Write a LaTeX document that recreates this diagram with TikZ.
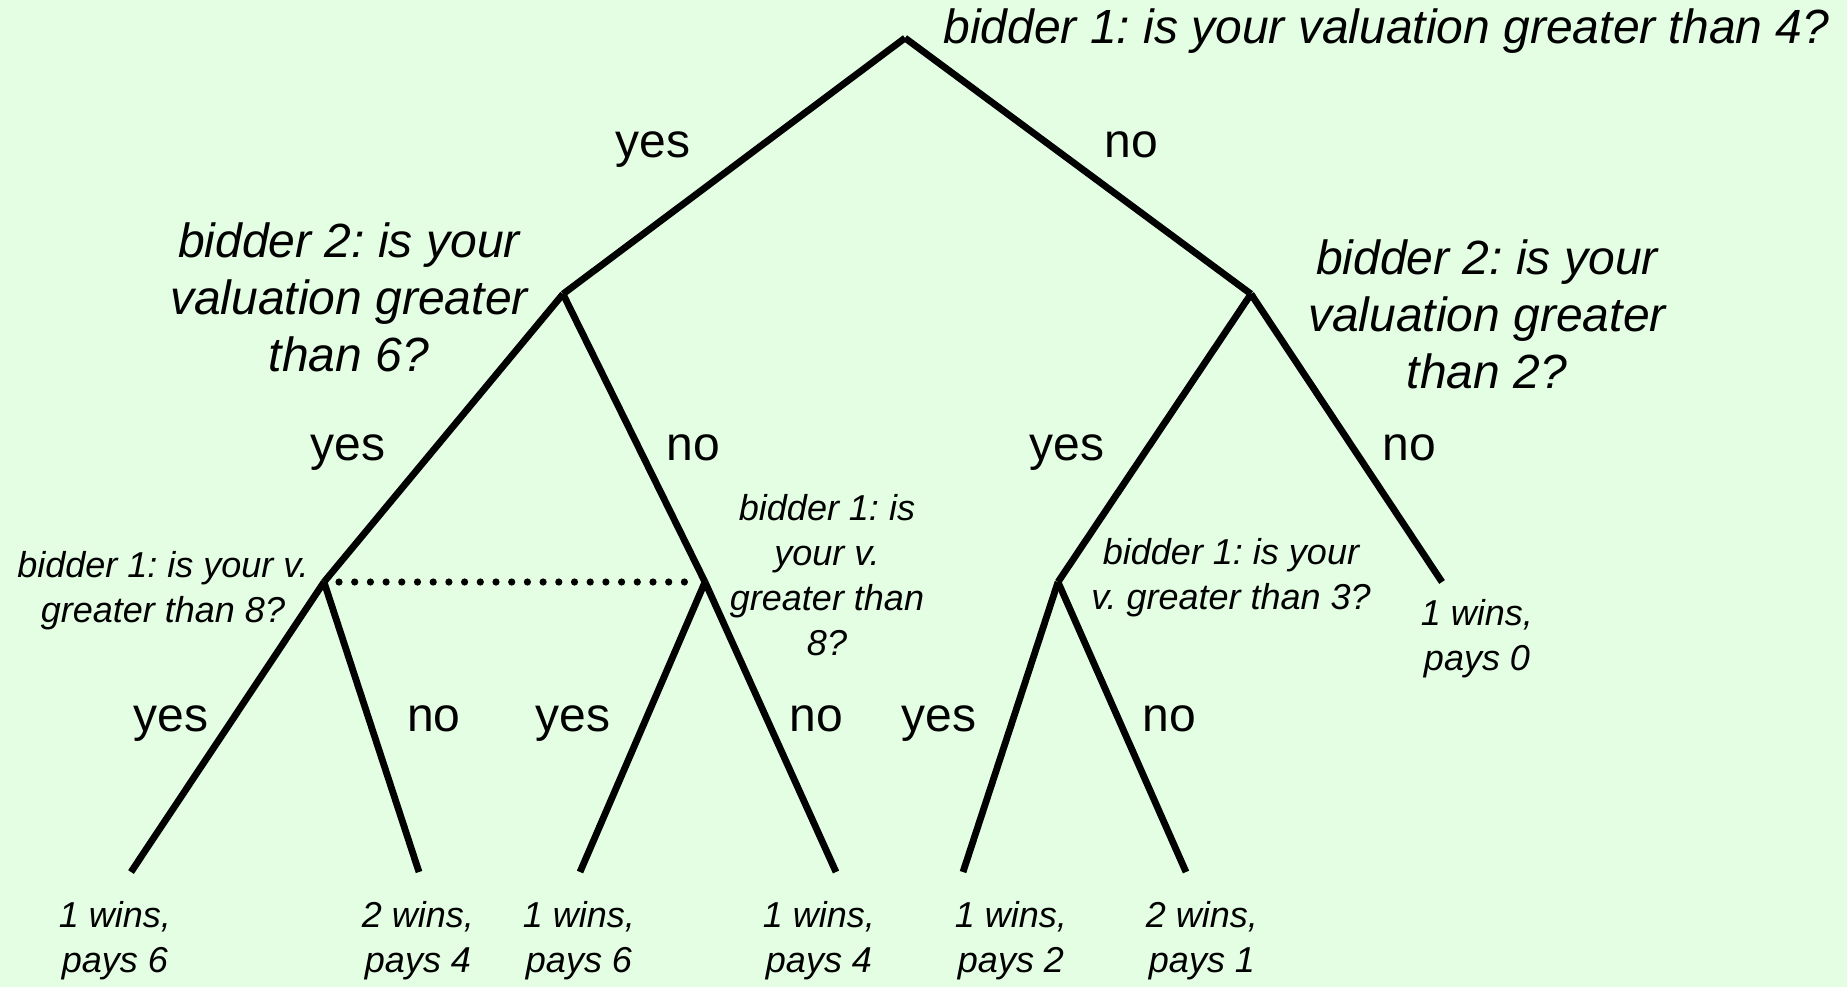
\documentclass[tikz,border=0pt]{standalone}
\usepackage{fontspec}
\setmainfont{Liberation Sans}
\usetikzlibrary{positioning}
\definecolor{bgmint}{HTML}{E3FEE3}
\frenchspacing

\begin{document}
\begin{tikzpicture}[x=0.5pt,y=-0.5pt,
    branch/.style={line width=3.4pt},
    infoset/.style={line width=3.6pt, line cap=round, dash pattern=on 0pt off 7.85pt},
    bigq/.style={inner sep=0pt, align=center, font=\fontsize{24}{28.5}\selectfont\itshape},
    smallq/.style={inner sep=0pt, align=center, font=\fontsize{18}{22.5}\selectfont\itshape},
    answer/.style={inner sep=0pt, anchor=base, font=\fontsize{24}{28}\selectfont}]
  \fill[bgmint] (0,0) rectangle (1847,987);

  % decision points
  \coordinate (root) at (905,38);
  \coordinate (l)    at (563,294);
  \coordinate (r)    at (1251,294);
  \coordinate (ll)   at (324,582);
  \coordinate (lr)   at (705,582);
  \coordinate (rl)   at (1058,582);
  \coordinate (rr)   at (1442,582);
  % leaves
  \coordinate (lla) at (131,872);
  \coordinate (llb) at (419,872);
  \coordinate (lra) at (580,872);
  \coordinate (lrb) at (836,872);
  \coordinate (rla) at (963,872);
  \coordinate (rlb) at (1186,872);

  \foreach \a/\b in {root/l, root/r, l/ll, l/lr, r/rl, r/rr,
                     ll/lla, ll/llb, lr/lra, lr/lrb, rl/rla, rl/rlb}
    \draw[branch] (\a) -- (\b);
  \path (ll) ++(15,0) coordinate (dl) (lr) ++(-12,0) coordinate (dr);
  \draw[infoset] (dl) -- (dr);

  % questions
  \node[bigq, anchor=west] (q0) at (943,31) {bidder 1: is your valuation greater than 4?};
  \node[bigq] (q1) at (349,297) {bidder 2: is your\\valuation greater\\than 6?};
  \node[bigq] (q2) at (1487,314) {bidder 2: is your\\valuation greater\\than 2?};
  \node[smallq] (q3) at (163,591) {bidder 1: is your v.\\greater than 8?};
  \node[smallq] (q4) at (827,575) {bidder 1: is\\your v.\\greater than\\8?};
  \node[smallq] (q5) at (1231,578) {bidder 1: is your\\v. greater than 3?};

  % answers
  \node[answer] (y0) at (653,157) {yes};
  \node[answer] (n0) at (1131,157) {no};
  \node[answer] (y1) at (348,460) {yes};
  \node[answer] (n1) at (693,460) {no};
  \node[answer] (y2) at (1067,460) {yes};
  \node[answer] (n2) at (1409,460) {no};
  \node[answer] (y3) at (171,731) {yes};
  \node[answer] (n3) at (434,731) {no};
  \node[answer] (y4) at (573,731) {yes};
  \node[answer] (n4) at (816,731) {no};
  \node[answer] (y5) at (939,731) {yes};
  \node[answer] (n5) at (1169,731) {no};

  % outcomes
  \node[smallq] (o0) at (1477,639) {1 wins,\\pays 0};
  \node[smallq] (o1) at (115,941) {1 wins,\\pays 6};
  \node[smallq] (o2) at (418,941) {2 wins,\\pays 4};
  \node[smallq] (o3) at (579,941) {1 wins,\\pays 6};
  \node[smallq] (o4) at (819,941) {1 wins,\\pays 4};
  \node[smallq] (o5) at (1011,941) {1 wins,\\pays 2};
  \node[smallq] (o6) at (1202,941) {2 wins,\\pays 1};
\end{tikzpicture}
\end{document}
